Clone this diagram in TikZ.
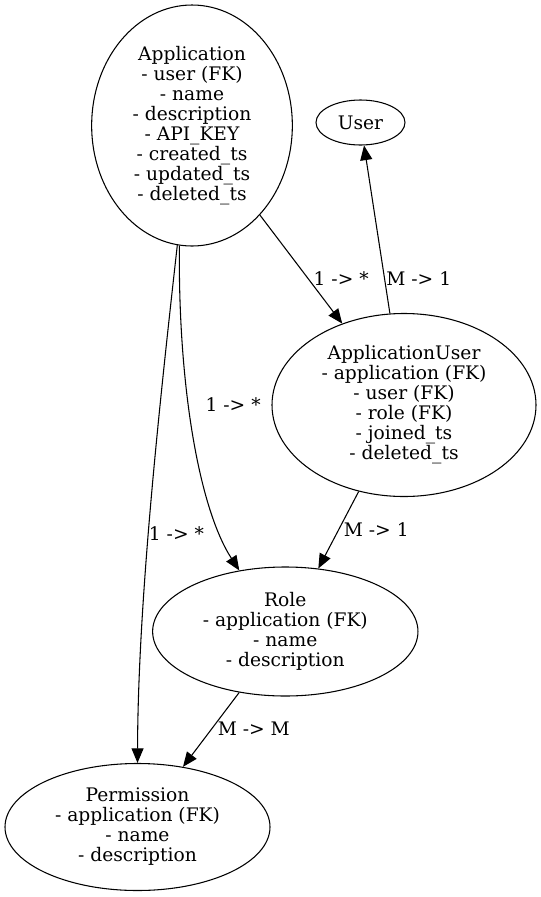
\documentclass[tikz,border=0pt]{standalone}
\usepackage{fontspec}
\setmainfont{DejaVu Serif}
\usetikzlibrary{shapes.geometric,arrows.meta}

\begin{document}
\begin{tikzpicture}[x=0.75pt,y=-0.75pt,
  every node/.style={font=\fontsize{14}{15}\selectfont},
  entity/.style={draw,ellipse,inner sep=0pt,align=center,line width=0.8pt},
  rel/.style={-{Triangle[length=11pt,width=9pt]},line width=0.8pt},
  card/.style={inner sep=1pt,anchor=west}]
\useasboundingbox (0,0) rectangle (541,897);

\node[entity,minimum width=150.5pt,minimum height=180.75pt] (app) at (192,125.5) {Application\\- user (FK)\\- name\\- description\\- API\_KEY\\- created\_ts\\- updated\_ts\\- deleted\_ts};
\node[entity,minimum width=66.75pt,minimum height=33.75pt] (user) at (360.5,122.5) {User};
\node[entity,minimum width=198pt,minimum height=137.25pt] (appuser) at (404,405) {ApplicationUser\\- application (FK)\\- user (FK)\\- role (FK)\\- joined\_ts\\- deleted\_ts};
\node[entity,minimum width=199pt,minimum height=96.75pt] (role) at (285.3,631.5) {Role\\- application (FK)\\- name\\- description};
\node[entity,minimum width=198.75pt,minimum height=95.25pt] (perm) at (137.5,827) {Permission\\- application (FK)\\- name\\- description};

\draw[rel] (app) -- node[card,pos=.59,xshift=2.5pt] {1 -> *} (appuser);
\draw[rel] (appuser) -- node[card,pos=.21] {M -> 1} (user);
\draw[rel] (app.264) .. controls (178,390) and (200,510) .. node[card,pos=.4,xshift=11.4pt] {1 -> *} (role.127);
\draw[rel] (app.263) .. controls (160,400) and (138,600) .. node[card,pos=.56,xshift=-1pt] {1 -> *} (perm.north);
\draw[rel] (appuser) -- node[card,pos=.5,xshift=2.6pt] {M -> 1} (role);
\draw[rel] (role) -- node[card,pos=.49,xshift=3.2pt] {M -> M} (perm);
\end{tikzpicture}
\end{document}
